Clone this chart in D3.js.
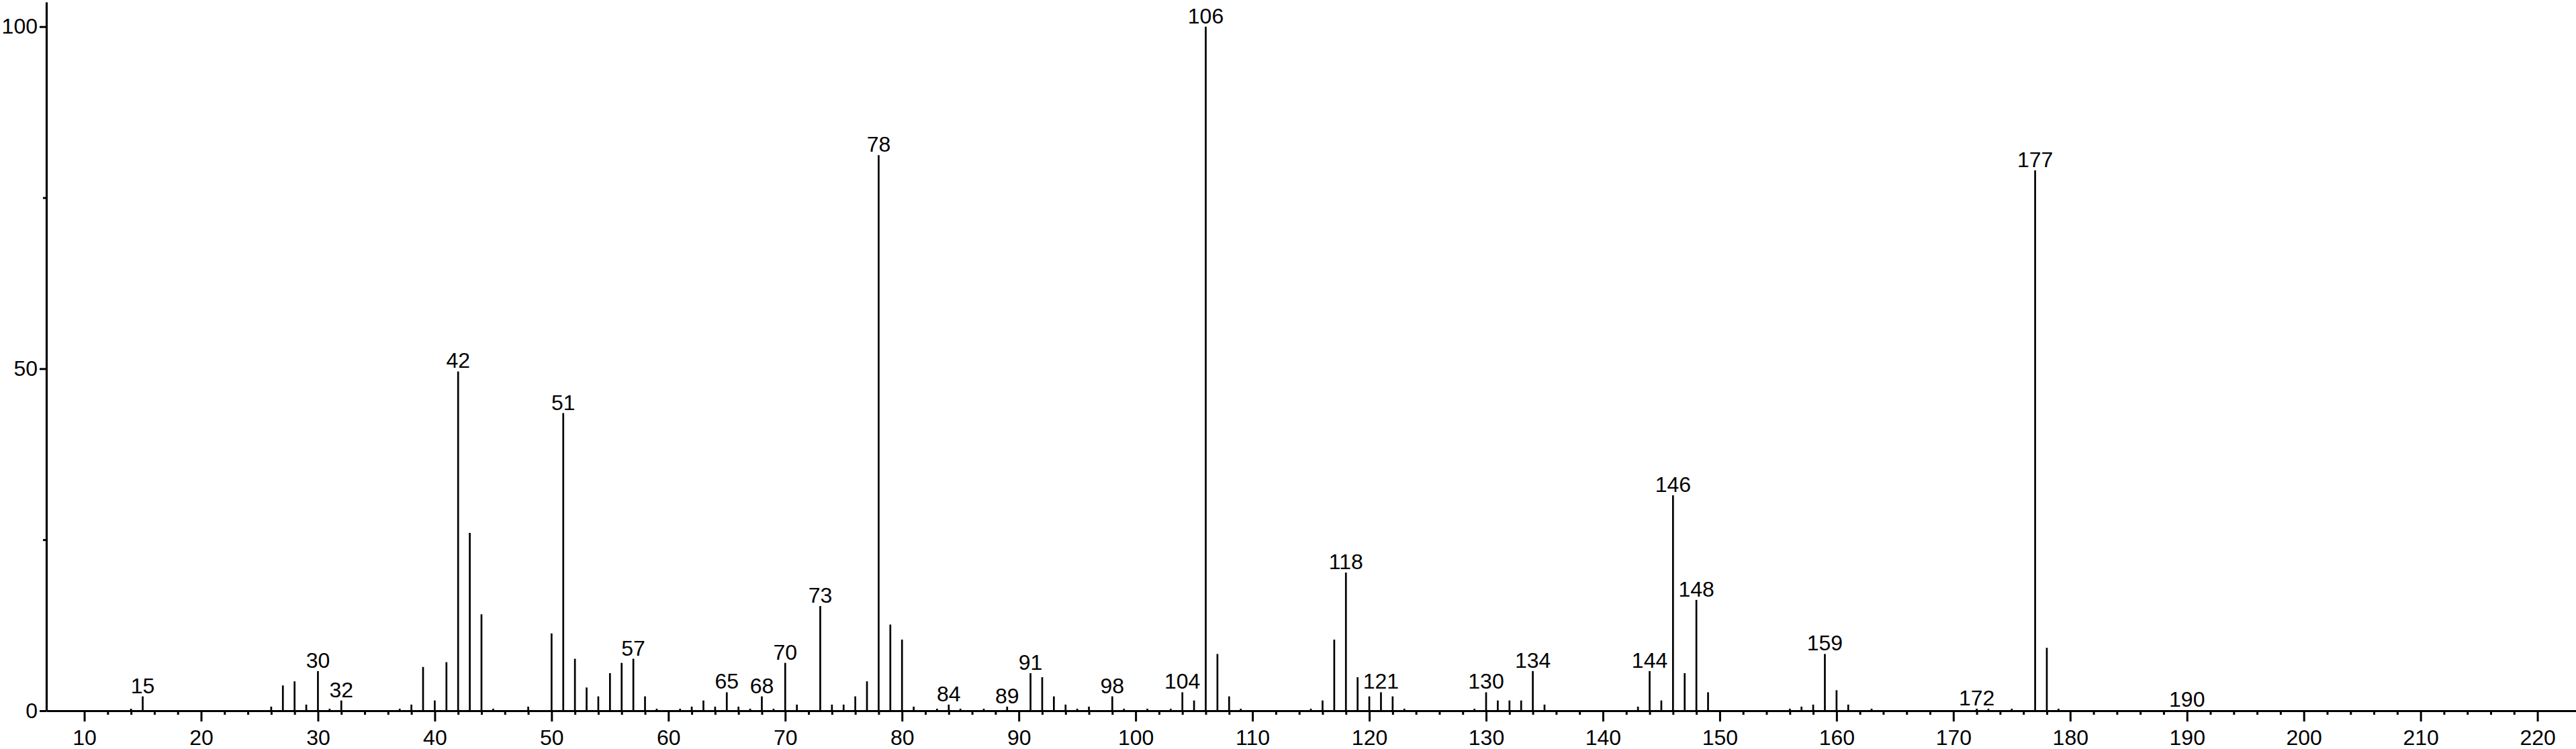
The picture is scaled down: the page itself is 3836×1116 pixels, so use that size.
<!DOCTYPE html>
<meta charset="utf-8">
<html>
    <head>
        <title>Mass spectrum</title>
        <style>
            body { margin: 0; background: #fff; }
            text { font-family: "Liberation Sans", Arial, sans-serif; }
        </style>
    </head>

    <body>
        <div id="viz"></div>

        <script src="https://cdnjs.cloudflare.com/ajax/libs/d3/7.8.5/d3.min.js"></script>
        <script>
            // m/z and relative intensity
            var mz = [14, 15, 26, 27, 28, 29, 30, 31, 32, 37, 38, 39, 40, 41, 42, 43, 44, 45, 48,
                      50, 51, 52, 53, 54, 55, 56, 57, 58, 59, 61, 62, 63, 64, 65, 66, 67, 68, 69,
                      70, 71, 73, 74, 75, 76, 77, 78, 79, 80, 81, 83, 84, 85, 87, 89,
                      91, 92, 93, 94, 95, 96, 98, 99, 101, 103, 104, 105, 106, 107, 108, 109,
                      115, 116, 117, 118, 119, 120, 121, 122, 123, 129, 130, 131, 132, 133, 134, 135,
                      143, 144, 145, 146, 147, 148, 149, 156, 157, 158, 159, 160, 161, 163,
                      172, 173, 175, 177, 178, 179, 190];
            var intensity = [0.3, 2.1, 0.6, 3.7, 4.3, 0.9, 5.8, 0.3, 1.5, 0.3, 0.9, 6.4, 1.5, 7.1, 49.6, 26.0, 14.1, 0.3, 0.6,
                             11.3, 43.5, 7.6, 3.4, 2.1, 5.5, 7.0, 7.6, 2.1, 0.3, 0.3, 0.6, 1.5, 0.6, 2.7, 0.6, 0.3, 2.1, 0.3,
                             7.0, 0.9, 15.3, 0.9, 0.9, 2.1, 4.3, 81.2, 12.6, 10.4, 0.6, 0.3, 0.9, 0.3, 0.3, 0.6,
                             5.5, 4.9, 2.1, 0.9, 0.3, 0.6, 2.1, 0.3, 0.3, 0.3, 2.7, 1.5, 100, 8.3, 2.1, 0.3,
                             0.3, 1.5, 10.4, 20.2, 4.9, 2.1, 2.7, 2.1, 0.3, 0.3, 2.7, 1.5, 1.5, 1.5, 5.8, 0.9,
                             0.6, 5.8, 1.5, 31.5, 5.5, 16.2, 2.7, 0.3, 0.6, 0.9, 8.3, 3.0, 0.9, 0.3,
                             0.3, 0.3, 0.3, 79.0, 9.2, 0.3, 0.1];
            var labelled = [15, 30, 32, 42, 51, 57, 65, 68, 70, 73, 78, 84, 89, 91, 98, 104, 106,
                            118, 121, 130, 134, 144, 146, 148, 159, 172, 177, 190];

            var xMajor = d3.range(10, 221, 10);
            var xMinor = d3.range(10, 221, 2).filter(function (d) { return d % 10 != 0; });
            var yMajor = [0, 50, 100];
            var yMinor = [25, 75];

            var width = 3836, height = 1116;
            var x = d3.scaleLinear().domain([6.75, 223.3]).range([69, 3836]);
            var y = d3.scaleLinear().domain([0, 103.6]).range([1059, 3]);

            var svg = d3.select("#viz")
                .append("svg")
                .attr("width", width)
                .attr("height", height);

            var peaks = mz.map(function (m, i) { return { mz: m, v: intensity[i] }; });

            svg.append("g")
                .selectAll("line")
                .data(peaks).enter()
                .append("line")
                .attr("x1", function (d) { return x(d.mz); })
                .attr("x2", function (d) { return x(d.mz); })
                .attr("y1", y(0))
                .attr("y2", function (d) { return y(d.v); })
                .attr("stroke", "#000")
                .attr("stroke-width", 2.7);

            svg.append("g")
                .selectAll("text")
                .data(peaks.filter(function (d) { return labelled.indexOf(d.mz) >= 0; })).enter()
                .append("text")
                .attr("x", function (d) { return x(d.mz); })
                .attr("y", function (d) { return y(d.v) - 5; })
                .attr("text-anchor", "middle")
                .attr("font-size", 32)
                .text(function (d) { return d.mz; });

            // x axis, major + minor ticks
            var gx = svg.append("g")
                .attr("transform", "translate(0," + y(0) + ")")
                .call(d3.axisBottom(x).tickValues(xMajor).tickSize(16).tickSizeOuter(0).tickPadding(12));
            svg.append("g")
                .attr("transform", "translate(0," + y(0) + ")")
                .call(d3.axisBottom(x).tickValues(xMinor).tickSize(6).tickFormat("").tickSizeOuter(0))
                .select(".domain").remove();

            // y axis
            var gy = svg.append("g")
                .attr("transform", "translate(" + x.range()[0] + ",0)")
                .call(d3.axisLeft(y).tickValues(yMajor).tickSize(10).tickSizeOuter(0).tickPadding(3));
            svg.append("g")
                .attr("transform", "translate(" + x.range()[0] + ",0)")
                .call(d3.axisLeft(y).tickValues(yMinor).tickSize(5).tickFormat("").tickSizeOuter(0))
                .select(".domain").remove();

            svg.selectAll(".domain").attr("stroke", "#000").attr("stroke-width", 3.2);
            svg.selectAll(".tick line").attr("stroke", "#000").attr("stroke-width", 3);
            svg.selectAll(".tick text")
                .attr("font-size", 32)
                .attr("font-family", "Liberation Sans, Arial, sans-serif")
                .attr("fill", "#000");
        </script>
    </body>
</html>
